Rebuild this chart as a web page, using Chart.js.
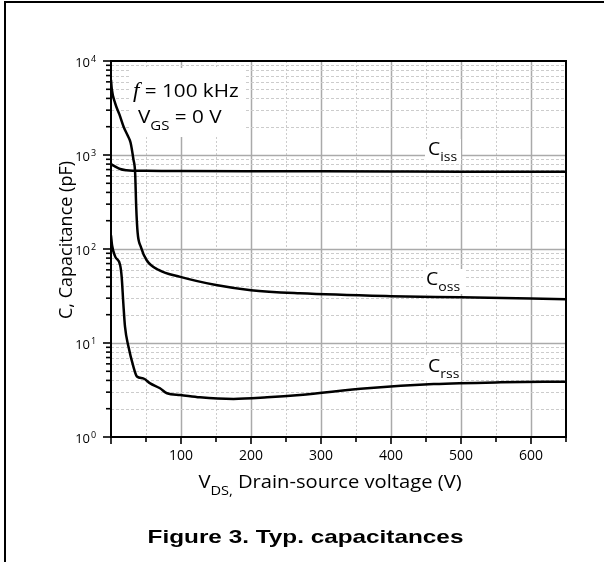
<!DOCTYPE html>
<html>
<head>
<meta charset="utf-8">
<script src="https://cdn.jsdelivr.net/npm/chart.js@4.4.1/dist/chart.umd.min.js"></script>
<style>
  html, body { margin: 0; padding: 0; background: #fff; }
  #wrap { width: 604px; height: 562px; }
</style>
</head>
<body>
<div id="wrap"><canvas id="caps" width="604" height="562"></canvas></div>
<script>
// values (V in volts, C in pF)
const cissV = [0, 5, 13, 22, 31, 50, 100, 200, 300, 400, 500, 650];
const cissC = [800, 760, 710, 688, 680, 678, 675, 672, 670, 667, 664, 662];

const cossV = [0, 1, 6, 12, 18, 24, 28, 32, 34.5, 36, 38, 42.5, 51, 68, 99, 150, 200, 270, 400, 500, 650];
const cossC = [6300, 5100, 3550, 2700, 2000, 1600, 1350, 900, 640, 283, 150, 106, 76, 60, 50.5, 41.4, 36.5, 33.8, 31.5, 30.6, 29.2];

const crssV = [0, 1.5, 6, 13, 15.3, 17.6, 20, 25, 32, 37, 46, 56, 70, 80, 99, 127, 175, 223, 270, 366, 461, 557, 650];
const crssC = [140, 110, 83, 67.5, 50, 26.5, 14.9, 9.1, 5.6, 4.4, 4.2, 3.72, 3.3, 2.92, 2.8, 2.64, 2.54, 2.64, 2.8, 3.3, 3.66, 3.82, 3.88];

const xTickLabels = [100, 200, 300, 400, 500, 600];
const yDecades = [1, 10, 100, 1000, 10000];
const yExponents = ["0", "1", "2", "3", "4"];
const yMinorSteps = [2, 3, 4, 5, 6, 7, 8, 9];

const yTicks = [];
yDecades.forEach((d, i) => {
  yTicks.push(d);
  if (i < yDecades.length - 1) yMinorSteps.forEach(m => yTicks.push(d * m));
});

const FONT = "'Open Sans', 'Noto Sans', sans-serif";

function pts(xs, ys) {
  return xs.map((v, i) => ({ x: v, y: ys[i] }));
}

// draw a run of text pieces [text, font, dy], optionally widened by sx
function drawRich(ctx, parts, x, y, align, sx) {
  sx = sx || 1;
  let w = 0;
  parts.forEach(p => { ctx.font = p[1]; w += ctx.measureText(p[0]).width * sx; });
  let cx = align === "center" ? x - w / 2 : x;
  ctx.textAlign = "left";
  ctx.textBaseline = "alphabetic";
  parts.forEach(p => {
    ctx.font = p[1];
    ctx.save();
    ctx.translate(cx, y + (p[2] || 0));
    ctx.scale(sx, 1);
    ctx.fillText(p[0], 0, 0);
    ctx.restore();
    cx += ctx.measureText(p[0]).width * sx;
  });
  return w;
}

const framePlugin = {
  id: "frame",
  beforeDatasetsDraw(chart) {
    const { ctx, chartArea: a, scales: { x, y } } = chart;
    ctx.save();
    // grid
    x.ticks.forEach(t => {
      if (t.value <= 0 || t.value >= 650) return;
      const major = t.value % 100 === 0;
      const px = Math.round(x.getPixelForValue(t.value)) + 0.5;
      ctx.strokeStyle = major ? "#aaaaaa" : "#cccccc";
      ctx.lineWidth = major ? 1.5 : 1;
      ctx.setLineDash(major ? [] : [2, 2]);
      ctx.beginPath();
      ctx.moveTo(px, a.top);
      ctx.lineTo(px, a.bottom);
      ctx.stroke();
    });
    y.ticks.forEach(t => {
      if (t.value <= 1 || t.value >= 10000) return;
      const major = yDecades.includes(t.value);
      const py = Math.round(y.getPixelForValue(t.value)) + 0.5;
      ctx.strokeStyle = major ? "#aaaaaa" : "#cccccc";
      ctx.lineWidth = major ? 1.5 : 1;
      ctx.setLineDash(major ? [] : [3, 2]);
      ctx.beginPath();
      ctx.moveTo(a.left, py);
      ctx.lineTo(a.right, py);
      ctx.stroke();
    });
    ctx.setLineDash([]);

    // white boxes behind annotations
    ctx.fillStyle = "#fff";
    ctx.fillRect(130, 68, 116, 69);
    ctx.fillRect(425, 139, 36, 25);
    ctx.fillRect(423, 269, 41, 25);
    ctx.fillRect(425, 356, 36, 25);

    ctx.fillStyle = "#000";
    drawRich(ctx, [["f", "italic 20px 'Liberation Serif', serif"], [" = 100 kHz", "18px " + FONT]], 133, 97, "left", 1.15);
    drawRich(ctx, [["V", "18px " + FONT], ["GS", "13px " + FONT, 7], [" = 0 V", "18px " + FONT]], 138, 123, "left", 1.15);

    drawRich(ctx, [["C", "18px " + FONT], ["iss", "13px " + FONT, 6]], 428, 155, "left", 1.08);
    drawRich(ctx, [["C", "18px " + FONT], ["oss", "13px " + FONT, 6]], 426, 285, "left", 1.08);
    drawRich(ctx, [["C", "18px " + FONT], ["rss", "13px " + FONT, 6]], 428, 372, "left", 1.08);
    ctx.restore();
  },
  afterDraw(chart) {
    const { ctx, chartArea: a, scales: { x, y } } = chart;
    ctx.save();
    ctx.strokeStyle = "#000";
    ctx.lineWidth = 2;
    ctx.strokeRect(a.left, a.top, a.right - a.left, a.bottom - a.top);

    // tick marks
    ctx.lineWidth = 1.6;
    x.ticks.forEach(t => {
      const px = x.getPixelForValue(t.value);
      const len = t.value % 100 === 0 ? 7 : 5;
      ctx.beginPath();
      ctx.moveTo(px, a.bottom);
      ctx.lineTo(px, a.bottom + len);
      ctx.stroke();
    });
    y.ticks.forEach(t => {
      const py = y.getPixelForValue(t.value);
      const len = yDecades.includes(t.value) ? 8 : 5;
      ctx.beginPath();
      ctx.moveTo(a.left, py);
      ctx.lineTo(a.left - len, py);
      ctx.stroke();
    });

    // y tick labels 10^n
    ctx.fillStyle = "#000";
    yDecades.forEach((d, i) => {
      const py = y.getPixelForValue(d);
      ctx.font = "13px " + FONT;
      ctx.textAlign = "right";
      ctx.textBaseline = "alphabetic";
      ctx.fillText("10", 90, py + 6);
      ctx.font = "9px " + FONT;
      ctx.textAlign = "left";
      ctx.fillText(yExponents[i], 91, py + 1);
    });

    // axis titles
    drawRich(ctx, [["V", "18px " + FONT], ["DS,", "13px " + FONT, 7], [" Drain-source voltage (V)", "18px " + FONT]], 330, 488, "center", 1.12);
    ctx.save();
    ctx.translate(72, 240);
    ctx.rotate(-Math.PI / 2);
    drawRich(ctx, [["C, Capacitance (pF)", "18px " + FONT]], 0, 0, "center");
    ctx.restore();

    // figure caption
    drawRich(ctx, [["Figure 3. Typ. capacitances", "bold 19px 'Liberation Sans', Arial, sans-serif"]], 305.5, 543, "center", 1.28);

    // outer frame (top and left edges)
    ctx.fillRect(4, 1, 2, 561);
    ctx.fillRect(4, 1, 600, 2);
    ctx.restore();
  }
};

const lineStyle = {
  borderColor: "#000",
  borderWidth: 2.5,
  pointRadius: 0,
  fill: false,
  cubicInterpolationMode: "monotone"
};

new Chart(document.getElementById("caps"), {
  type: "line",
  data: {
    datasets: [
      { label: "Ciss", data: pts(cissV, cissC), ...lineStyle },
      { label: "Coss", data: pts(cossV, cossC), ...lineStyle },
      { label: "Crss", data: pts(crssV, crssC), ...lineStyle }
    ]
  },
  options: {
    responsive: false,
    animation: false,
    layout: { padding: { top: 61, right: 38, left: 0, bottom: 0 } },
    plugins: {
      legend: { display: false },
      tooltip: { enabled: false }
    },
    scales: {
      x: {
        type: "linear",
        min: 0,
        max: 650,
        grid: { display: false, drawTicks: false },
        border: { display: false },
        ticks: {
          stepSize: 50,
          autoSkip: false,
          maxRotation: 0,
          padding: 11,
          color: "#000",
          font: { family: FONT, size: 14 },
          callback: v => (xTickLabels.includes(v) ? String(v) : "")
        },
        afterFit: s => { s.height = 125; }
      },
      y: {
        type: "logarithmic",
        min: 1,
        max: 10000,
        grid: { display: false, drawTicks: false },
        border: { display: false },
        ticks: { display: false },
        afterBuildTicks: s => { s.ticks = yTicks.map(v => ({ value: v })); },
        afterFit: s => { s.width = 111; }
      }
    }
  },
  plugins: [framePlugin]
});
</script>
</body>
</html>
